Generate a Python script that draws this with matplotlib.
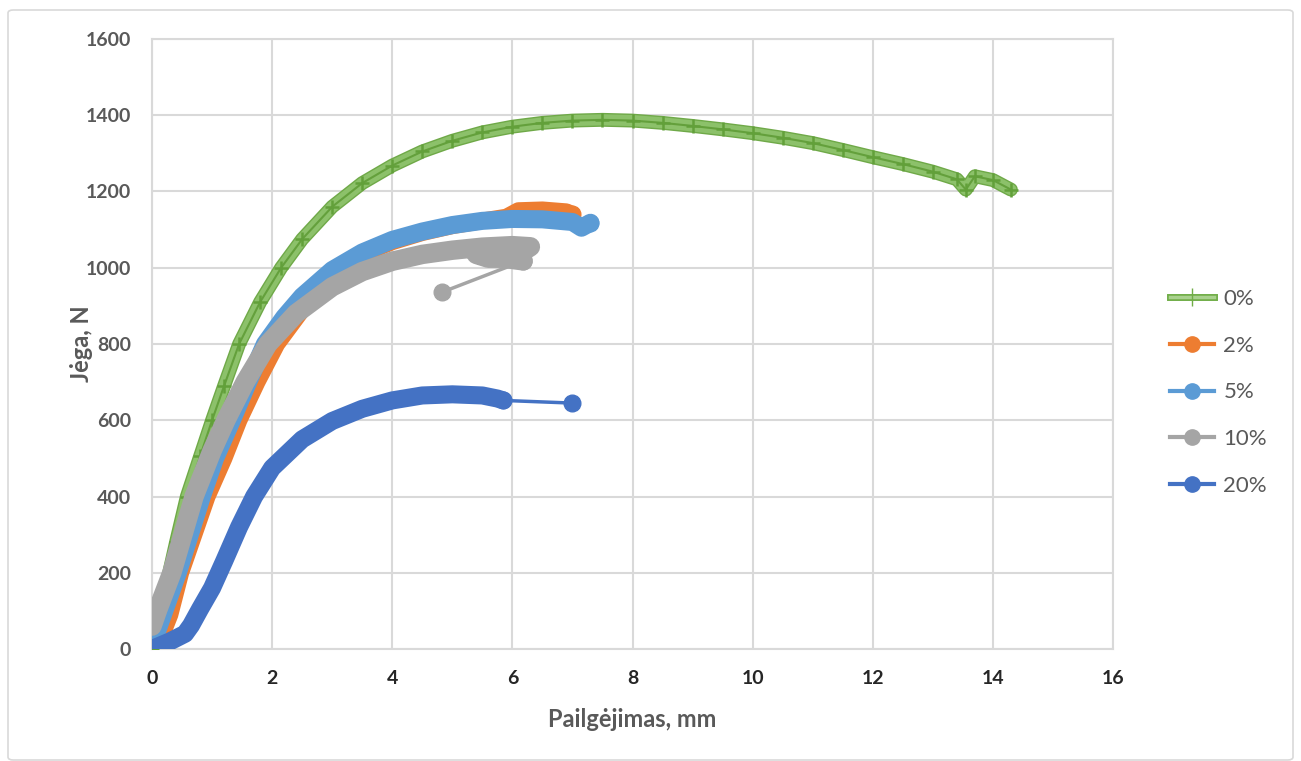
import matplotlib
matplotlib.use("Agg")
import matplotlib.pyplot as plt
import matplotlib.patheffects as pe
from matplotlib.lines import Line2D
from matplotlib.patches import FancyBboxPatch

plt.rcParams["font.family"] = ["Lato", "DejaVu Sans"]

# Force vs elongation curves for each additive content
labels = ["0%", "2%", "5%", "10%", "20%"]

x_0 = [0, 0.2, 0.4, 0.58, 0.8, 1.0, 1.2, 1.45, 1.8, 2.15, 2.5, 3, 3.5, 4, 4.5, 5, 5.5,
       6, 6.5, 7, 7.5, 8, 8.5, 9, 9.5, 10, 10.5, 11, 11.5, 12, 12.5, 13, 13.4, 13.55,
       13.7, 14.0, 14.3]
y_0 = [0, 140, 280, 400, 505, 600, 690, 800, 910, 1000, 1075, 1160, 1222, 1268, 1305,
       1333, 1355, 1370, 1380, 1386, 1388, 1386, 1380, 1372, 1363, 1353, 1341, 1327,
       1309, 1290, 1272, 1252, 1232, 1205, 1240, 1230, 1205]

x_2 = [0, 0.15, 0.3, 0.48, 0.92, 1.2, 1.45, 1.75, 2.08, 2.55, 3, 3.5, 4, 4.5, 5, 5.5,
       5.9, 6.1, 6.5, 6.9, 7.0]
y_2 = [15, 30, 90, 200, 400, 500, 600, 700, 800, 900, 980, 1035, 1068, 1092, 1110,
       1123, 1133, 1150, 1152, 1147, 1140]

x_5 = [0, 0.08, 0.25, 0.43, 0.83, 1.05, 1.33, 1.6, 1.88, 2.2, 2.5, 3, 3.5, 4, 4.5, 5,
       5.5, 6, 6.5, 7, 7.15, 7.3]
y_5 = [0, 45, 120, 200, 400, 500, 600, 700, 800, 870, 925, 994, 1040, 1073, 1095,
       1112, 1123, 1128, 1127, 1120, 1105, 1118]

x_10 = [0, 0.1, 0.33, 0.7, 1.0, 1.23, 1.55, 1.93, 2.4, 3, 3.5, 4, 4.5, 5, 5.5,
        6.0, 6.3, 6.2, 5.8, 5.4, 5.6, 5.85, 6.18, 4.83]
y_10 = [60, 105, 200, 400, 520, 600, 700, 800, 880, 950, 990, 1017, 1035, 1046,
        1054, 1058, 1055, 1045, 1040, 1035, 1025, 1025, 1018, 936]

x_20 = [0, 0.3, 0.55, 0.65, 0.8, 1.0, 1.2, 1.45, 1.7, 2.0, 2.5, 3.0, 3.5, 4.0, 4.5,
        5.0, 5.5, 5.75, 5.85, 7.0]
y_20 = [0, 20, 40, 62, 105, 160, 230, 320, 400, 475, 550, 598, 630, 652, 665, 668,
        665, 657, 652, 645]

# number of leading points measured densely (drawn as a thick marker band)
dense = [len(x_0), len(x_2), len(x_5), len(x_10) - 1, len(x_20) - 1]
series = [(x_0, y_0), (x_2, y_2), (x_5, y_5), (x_10, y_10), (x_20, y_20)]
colors = ["#70ad47", "#ed7d31", "#5b9bd5", "#a5a5a5", "#4472c4"]
band_w = [10, 12, 13, 14, 13]

fig = plt.figure(figsize=(13.01, 7.61), dpi=100)
fig.patches.append(FancyBboxPatch((8 / 1301, 1 / 761), 1285 / 1301, 750 / 761,
                                  boxstyle="round,pad=0,rounding_size=0.004",
                                  transform=fig.transFigure, facecolor="none",
                                  edgecolor="#d9d9d9", linewidth=1.2, zorder=-1))
ax = fig.add_axes([152 / 1301, 112 / 761, 961 / 1301, 610 / 761])

for i, (xs, ys) in enumerate(series):
    n = dense[i]
    c = colors[i]
    z = 3 + i
    if i == 0:
        ax.plot(xs, ys, color="#8cc16a", lw=band_w[i] - 2,
                solid_capstyle="round", solid_joinstyle="round", zorder=z,
                path_effects=[pe.withStroke(linewidth=band_w[i], foreground="#6fa948")])
        ax.plot(xs, ys, color="#64a03c", lw=1.5, zorder=z)
        ax.plot(xs, ys, ls="none", marker="+", ms=10, mew=1.8, color="#62a03a",
                zorder=z)
        continue
    ax.plot(xs, ys, color=c, lw=2.5, zorder=z)
    ax.plot(xs[:n], ys[:n], color=c, lw=band_w[i], solid_capstyle="round",
            solid_joinstyle="round", zorder=z)
    ax.plot(xs[n - 1:], ys[n - 1:], ls="none", marker="o", ms=12, color=c, zorder=z)

ax.set_xlim(0, 16)
ax.set_ylim(0, 1600)
ax.set_xticks(range(0, 17, 2))
ax.set_yticks(range(0, 1601, 200))
ax.grid(True, color="#d9d9d9", lw=1.5)
ax.set_axisbelow(True)
for s in ax.spines.values():
    s.set_color("#d9d9d9")
    s.set_linewidth(1.5)
ax.tick_params(length=0, labelsize=14, labelcolor="#595959", pad=15)
for t in ax.get_xticklabels():
    t.set_fontweight("bold")
    t.set_color("#262626")
for t in ax.get_yticklabels():
    t.set_fontweight("bold")
ax.set_xlabel("Pailgėjimas, mm", fontsize=17, fontweight="bold", color="#595959")
ax.set_ylabel("Jėga, N", fontsize=17, fontweight="bold", color="#595959")
ax.xaxis.set_label_coords(0.5, -0.097)
ax.yaxis.set_label_coords(-0.061, 0.5)

handles = []
for i, c in enumerate(colors):
    if i == 0:
        # outlined light-green line with a thin cross tick
        h = (Line2D([], [], color="#70ad47", lw=5),
             Line2D([], [], color="#a9d18e", lw=2.5),
             Line2D([], [], ls="none", marker="|", ms=13, mew=1, color="#70ad47"))
    else:
        h = Line2D([], [], color=c, lw=3, marker="o", ms=11)
    handles.append(h)
leg = fig.legend(handles, labels, loc="upper left",
                 bbox_to_anchor=(1150 / 1301, 1 - 269 / 761),
                 frameon=False, fontsize=16, labelcolor="#595959", handlelength=2.0,
                 handletextpad=0.4, labelspacing=1.2)

fig.savefig("out.png", dpi=100)
